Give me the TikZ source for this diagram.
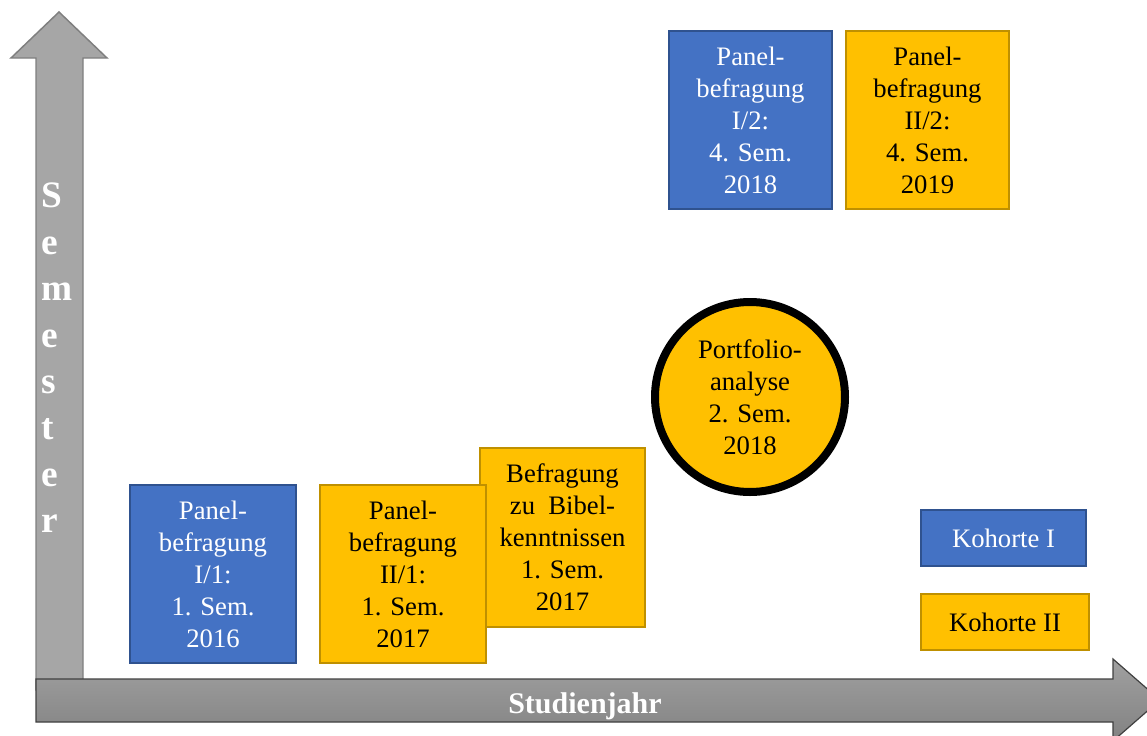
\documentclass[tikz,border=0pt]{standalone}
\usepackage{fontspec}
\setmainfont{Liberation Serif}
\definecolor{kblue}{HTML}{4472C4}
\definecolor{kblueb}{HTML}{2F528F}
\definecolor{kgold}{HTML}{FFC000}
\definecolor{kgoldb}{HTML}{BF9000}
\definecolor{axgray}{HTML}{A6A6A6}
\definecolor{axgrayb}{HTML}{7F7F7F}
\definecolor{axtop}{HTML}{A0A0A0}
\definecolor{axbot}{HTML}{828282}
\definecolor{axline}{HTML}{404040}
\begin{document}
\begin{tikzpicture}[x=0.75pt,y=-0.75pt,
 box/.style={draw, line width=1.1pt, align=center, inner sep=0pt, font=\fontsize{20}{24}\selectfont},
 bluebox/.style={box, fill=kblue, draw=kblueb, text=white},
 goldbox/.style={box, fill=kgold, draw=kgoldb, text=black},
 axlabel/.style={text=white, font=\bfseries}]
\useasboundingbox (0,0) rectangle (1147,736);
\begin{scope}
\clip (0,0) rectangle (1147,736);
% vertical axis arrow
\draw[fill=axgray, draw=axgrayb, line width=1.1pt] (36,690) -- (36,58) -- (11,58) -- (59,12) -- (107,58) -- (83,58) -- (83,690) -- cycle;
% horizontal axis arrow
\draw[top color=axtop, bottom color=axbot, draw=axline, line width=0.9pt] (36,679) -- (1113,679) -- (1113,659) -- (1160,700) -- (1113,741) -- (1113,722) -- (36,722) -- cycle;
\end{scope}
\node[axlabel, align=left, inner sep=0pt, anchor=north west, font=\bfseries\fontsize{28}{34.8}\selectfont] (ylab) at (41,183) {S\\e\\m\\e\\s\\t\\e\\r};
\node[axlabel, anchor=base, font=\bfseries\fontsize{22.5}{27}\selectfont] (xlab) at (585,713) {Studienjahr};
% boxes
\node[bluebox, minimum width=124.5pt, minimum height=133.5pt] (p11) at (213,574) {Panel-\\befragung\\I/1:\\1. Sem.\\2016};
\node[goldbox, minimum width=123.75pt, minimum height=134.25pt] (bib) at (562.5,537.5) {Befragung\\zu\ \ Bibel-\\kenntnissen\\1. Sem.\\2017};
\node[goldbox, minimum width=124.5pt, minimum height=133.5pt] (p21) at (403,574) {Panel-\\befragung\\II/1:\\1. Sem.\\2017};
\node[bluebox, minimum width=122.25pt, minimum height=133.5pt] (p12) at (750.5,120) {Panel-\\befragung\\I/2:\\4. Sem.\\2018};
\node[goldbox, minimum width=122.25pt, minimum height=133.5pt] (p22) at (927.5,120) {Panel-\\befragung\\II/2:\\4. Sem.\\2019};
\node[goldbox, circle, draw=black, line width=6pt, minimum size=142.5pt] (port) at (750,397) {Portfolio-\\analyse\\2. Sem.\\2018};
\node[bluebox, minimum width=123.75pt, minimum height=42pt] (k1) at (1003.5,538) {Kohorte I};
\node[goldbox, minimum width=126pt, minimum height=42pt] (k2) at (1005,622) {Kohorte II};
\end{tikzpicture}
\end{document}
